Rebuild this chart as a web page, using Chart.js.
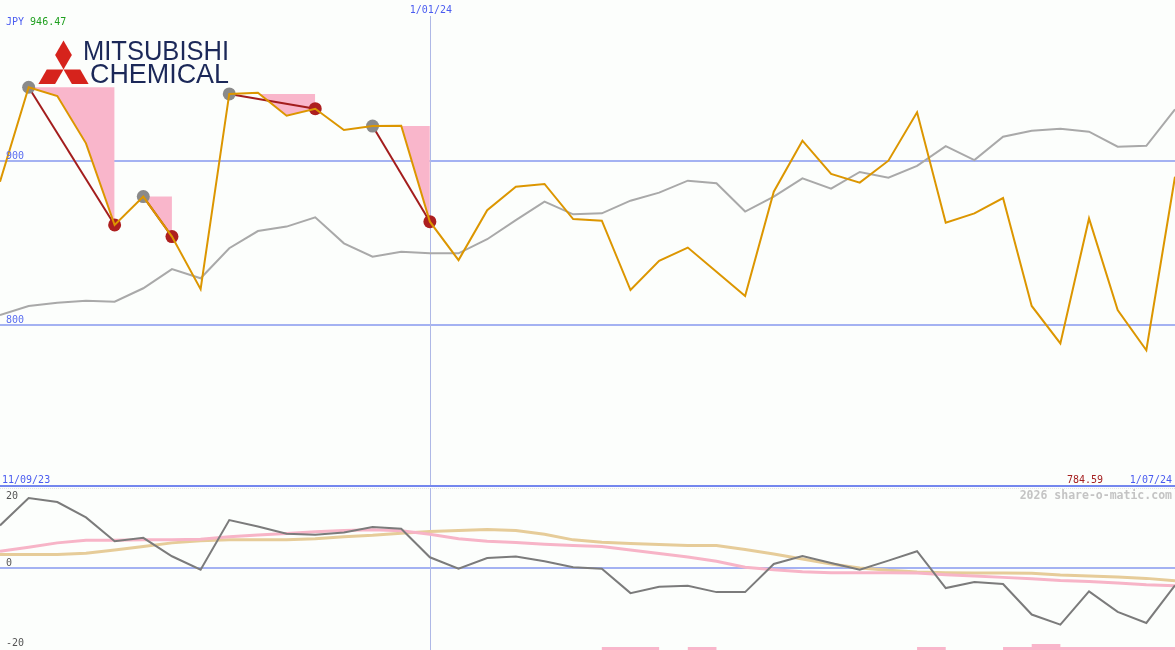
<!DOCTYPE html>
<html>
<head>
<meta charset="utf-8">
<script src="https://cdn.jsdelivr.net/npm/chart.js@4.4.1/dist/chart.umd.min.js"></script>
<style>
body { margin:0; background:#fcfefc; }
#wrap { position:relative; width:1175px; height:650px; overflow:hidden; background:#fcfefc; font-family:"DejaVu Sans Mono", monospace; }
#wrap canvas { position:absolute; left:0; }
#price { top:0; }
#osc { top:488px; }
#sep { position:absolute; left:0; top:485px; width:1175px; height:2px; background:#7487ee; }
#dots { position:absolute; left:0; top:488px; width:1175px; height:0; border-top:1px dotted #e2e2e2; }
#logo { position:absolute; left:0; top:0; }
.lbl { position:absolute; font-size:10px; line-height:10px; white-space:pre; }
</style>
</head>
<body>
<div id="wrap">
  <canvas id="price" width="1175" height="487"></canvas>
  <div id="sep"></div>
  <div id="dots"></div>
  <canvas id="osc" width="1175" height="162"></canvas>
  <svg id="logo" width="240" height="90"></svg>
</div>
<script>
// weekly closes, JPY
const dates = ['18/09/23','25/09/23','2/10/23','9/10/23','16/10/23','23/10/23','30/10/23','6/11/23',
  '13/11/23','20/11/23','27/11/23','4/12/23','11/12/23','18/12/23','25/12/23','1/01/24',
  '8/01/24','15/01/24','22/01/24','29/01/24','5/02/24','12/02/24','19/02/24','26/02/24',
  '4/03/24','11/03/24','18/03/24','25/03/24','1/04/24','8/04/24','15/04/24','22/04/24',
  '29/04/24','6/05/24','13/05/24','20/05/24','27/05/24','3/06/24','10/06/24','17/06/24',
  '24/06/24','1/07/24'];
const closes = [887.4, 945.0, 939.6, 910.8, 861.0, 878.3, 853.9, 821.8, 940.9, 941.7, 927.6, 931.9,
  918.9, 921.3, 921.5, 863.0, 839.6, 870.0, 884.3, 886.0, 864.6, 863.6, 821.3, 839.2, 847.2, 832.5,
  817.7, 881.3, 912.4, 892.1, 886.8, 900.2, 929.7, 862.4, 868.1, 877.4, 811.6, 788.8, 865.0, 809.1,
  784.6, 890.4];
const benchmark = [806.0, 811.6, 813.6, 814.8, 814.2, 822.4, 834.1, 828.5, 846.8, 857.3, 860.0, 865.7,
  849.8, 841.7, 844.7, 843.7, 843.7, 852.3, 864.0, 875.2, 867.5, 868.1, 875.8, 880.7, 888.0, 886.4,
  869.2, 878.3, 889.4, 883.1, 893.3, 889.8, 897.0, 909.1, 900.6, 914.8, 918.5, 919.7, 917.9, 908.7,
  909.3, 931.5];
// [peak index, trough index]
const drawdowns = [[1, 4], [5, 6], [8, 11], [13, 15]];
const priceLevels = [900, 800];
const priceHigh = '946.47';
const priceLow = '784.59';
const rangeLabels = ['11/09/23', '1/07/24'];
const markIndex = 15;

const momentum = [12.7, 20.9, 19.7, 15.1, 8.0, 9.0, 3.5, -0.5, 14.3, 12.4, 10.2, 9.9, 10.6, 12.2, 11.7,
  3.2, -0.2, 3.0, 3.4, 2.0, 0.2, -0.2, -7.5, -5.6, -5.3, -7.2, -7.2, 1.2, 3.6, 1.5, -0.5, 2.2, 5.0,
  -6.0, -4.2, -4.8, -13.9, -16.9, -7.0, -13.1, -16.4, -5.2];
const fastAvg = [5.0, 6.2, 7.5, 8.3, 8.3, 8.4, 8.4, 8.6, 9.3, 9.85, 10.3, 10.8, 11.2, 11.4, 11.1, 10.1,
  8.7, 8.0, 7.6, 7.1, 6.7, 6.4, 5.4, 4.3, 3.3, 2.0, 0.2, -0.5, -1.1, -1.4, -1.4, -1.4, -1.5, -2.0,
  -2.4, -2.8, -3.2, -3.7, -4.0, -4.5, -5.0, -5.3];
const slowAvg = [4.0, 4.0, 4.0, 4.4, 5.4, 6.4, 7.5, 8.1, 8.4, 8.4, 8.4, 8.7, 9.3, 9.75, 10.4, 10.9,
  11.2, 11.5, 11.2, 10.1, 8.4, 7.7, 7.3, 7.0, 6.7, 6.7, 5.5, 4.2, 2.7, 1.2, 0.0, -0.7, -1.2, -1.4,
  -1.5, -1.5, -1.6, -2.1, -2.4, -2.7, -3.1, -3.8];
// weekly flag strip along the bottom (value holds until the next week)
const flags = [0,0,0,0,0,0,0,0,0,0,0,0,0,0,0,0,0,0,0,0,0,1,1,0,1,0,0,0,0,0,0,0,1,0,0,1,2,1,1,1,1,0];
const oscLevels = [20, 0, -20];

const PINK = '#f9b6cb';
const wrap = document.getElementById('wrap');

function label(text, x, base, color, opt) {
  opt = opt || {};
  const size = opt.size || 10;
  const d = document.createElement('div');
  d.className = 'lbl';
  d.style.fontSize = size + 'px';
  d.style.lineHeight = size + 'px';
  d.style.top = (base - size * 0.846) + 'px';
  d.style.color = color;
  if (opt.bold) d.style.fontWeight = 'bold';
  if (opt.align == 'right') d.style.right = (1175 - x) + 'px';
  else if (opt.align == 'center') { d.style.left = x + 'px'; d.style.transform = 'translateX(-50%)'; }
  else d.style.left = x + 'px';
  if (opt.html) d.innerHTML = text; else d.textContent = text;
  wrap.appendChild(d);
}

const guides = {
  id: 'guides',
  beforeDatasetsDraw(chart, args, opts) {
    const {ctx, chartArea, scales} = chart;
    ctx.save();
    ctx.strokeStyle = '#a4b2f2';
    ctx.lineWidth = 2;
    opts.levels.forEach(v => {
      const y = Math.round(scales.y.getPixelForValue(v));
      ctx.beginPath(); ctx.moveTo(chartArea.left, y); ctx.lineTo(chartArea.right, y); ctx.stroke();
    });
    const x = Math.round(scales.x.getPixelForValue(markIndex)) + 0.5;
    ctx.strokeStyle = '#aeb8e6';
    ctx.lineWidth = 1;
    ctx.beginPath(); ctx.moveTo(x, opts.vTop); ctx.lineTo(x, chartArea.bottom); ctx.stroke();
    ctx.restore();
  }
};

// ---- price panel
const priceSets = [{
  data: closes, borderColor: '#dc9600', borderWidth: 2, pointRadius: 0, order: 0
}];
drawdowns.forEach(([a, b]) => {
  const line = closes.map((v, i) => (i == a || i == b) ? v : null);
  priceSets.push({
    data: line, spanGaps: true, borderColor: '#a31d1d', borderWidth: 2, order: 1,
    pointRadius: c => c.raw == null ? 0 : 6.5,
    pointBorderWidth: 0,
    pointBackgroundColor: c => c.dataIndex == a ? '#8a8a8a' : '#ad1f1f'
  });
  const peak = closes.map((v, i) => (i >= a && i <= b) ? closes[a] : null);
  priceSets.push({
    data: peak, borderWidth: 0, pointRadius: 0, order: 3,
    fill: {target: 0, above: PINK, below: '#b4f0a4'}
  });
});
priceSets.push({data: benchmark, borderColor: '#a9a9a9', borderWidth: 2, pointRadius: 0, order: 2});

const priceChart = new Chart(document.getElementById('price'), {
  type: 'line',
  data: {labels: dates, datasets: priceSets},
  options: {
    responsive: false, animation: false, devicePixelRatio: 1,
    layout: {padding: 0},
    elements: {line: {tension: 0}},
    plugins: {legend: {display: false}, tooltip: {enabled: false},
      guides: {levels: priceLevels, vTop: 16}},
    scales: {
      x: {display: false, offset: false},
      y: {display: false, min: 701.2, max: 998.2}
    }
  },
  plugins: [guides]
});

// ---- oscillator panel
const oscChart = new Chart(document.getElementById('osc'), {
  type: 'line',
  data: {labels: dates, datasets: [
    {data: momentum, borderColor: '#7b7b7b', borderWidth: 2, pointRadius: 0, order: 0},
    {data: fastAvg, borderColor: '#f7b4c7', borderWidth: 3, pointRadius: 0, order: 1},
    {data: slowAvg, borderColor: '#e6cc99', borderWidth: 3, pointRadius: 0, order: 2},
    {data: flags, yAxisID: 'yb', stepped: 'before', order: 3, pointRadius: 0,
     borderWidth: 0, borderColor: 'rgba(0,0,0,0)', backgroundColor: PINK, fill: 'origin'}
  ]},
  options: {
    responsive: false, animation: false, devicePixelRatio: 1,
    layout: {padding: 0},
    elements: {line: {tension: 0}},
    plugins: {legend: {display: false}, tooltip: {enabled: false},
      guides: {levels: [0], vTop: 0}},
    scales: {
      x: {display: false, offset: false},
      y: {display: false, min: -24.48, max: 23.88},
      yb: {display: false, min: 0, max: 54}
    }
  },
  plugins: [guides]
});

// ---- text
label('<span style="color:#4a5cf0">JPY</span> <span style="color:#1f9f1f">' + priceHigh + '</span>', 6, 25, '#4a5cf0', {html: true});
label(dates[markIndex], priceChart.scales.x.getPixelForValue(markIndex) + 1, 13, '#4a5cf0', {align: 'center'});
priceLevels.forEach(v => label(String(v), 6, priceChart.scales.y.getPixelForValue(v) - 2, '#5a6ef0'));
label(rangeLabels[0], 2, 483, '#4a5cf0');
label(priceLow, 1067, 483, '#a52020');
label(rangeLabels[1], 1172, 483, '#4a5cf0', {align: 'right'});
label('2026 share-o-matic.com', 1172, 500, '#c4c4c4', {align: 'right', bold: true, size: 11.5});
oscLevels.forEach(v => {
  const p = 488 + oscChart.scales.y.getPixelForValue(v);
  label(String(v), 6, v < 0 ? p + 11 : p - 2, '#555555');
});

// ---- logo
const svg = document.getElementById('logo');
const NS = 'http://www.w3.org/2000/svg';
const cx = 63.5, cy = 69.5, L = 29, w = L / (2 * Math.sqrt(3));
[[0, -1], [-Math.cos(Math.PI / 6), 0.5], [Math.cos(Math.PI / 6), 0.5]].forEach(([dx, dy]) => {
  const nx = -dy, ny = dx;
  const pts = [[cx, cy], [cx + dx * L / 2 + nx * w, cy + dy * L / 2 + ny * w],
    [cx + dx * L, cy + dy * L], [cx + dx * L / 2 - nx * w, cy + dy * L / 2 - ny * w]];
  const p = document.createElementNS(NS, 'polygon');
  p.setAttribute('points', pts.map(q => q.join(',')).join(' '));
  p.setAttribute('fill', '#d6231c');
  svg.appendChild(p);
});
[['MITSUBISHI', 83, 60, 146], ['CHEMICAL', 90, 82.5, 139]].forEach(([t, x, y, len]) => {
  const e = document.createElementNS(NS, 'text');
  e.setAttribute('x', x); e.setAttribute('y', y);
  e.setAttribute('font-family', 'Liberation Sans, Arial, sans-serif');
  e.setAttribute('font-size', '28');
  e.setAttribute('fill', '#1b2858');
  e.setAttribute('textLength', len);
  e.setAttribute('lengthAdjust', 'spacingAndGlyphs');
  e.textContent = t;
  svg.appendChild(e);
});
</script>
</body>
</html>
